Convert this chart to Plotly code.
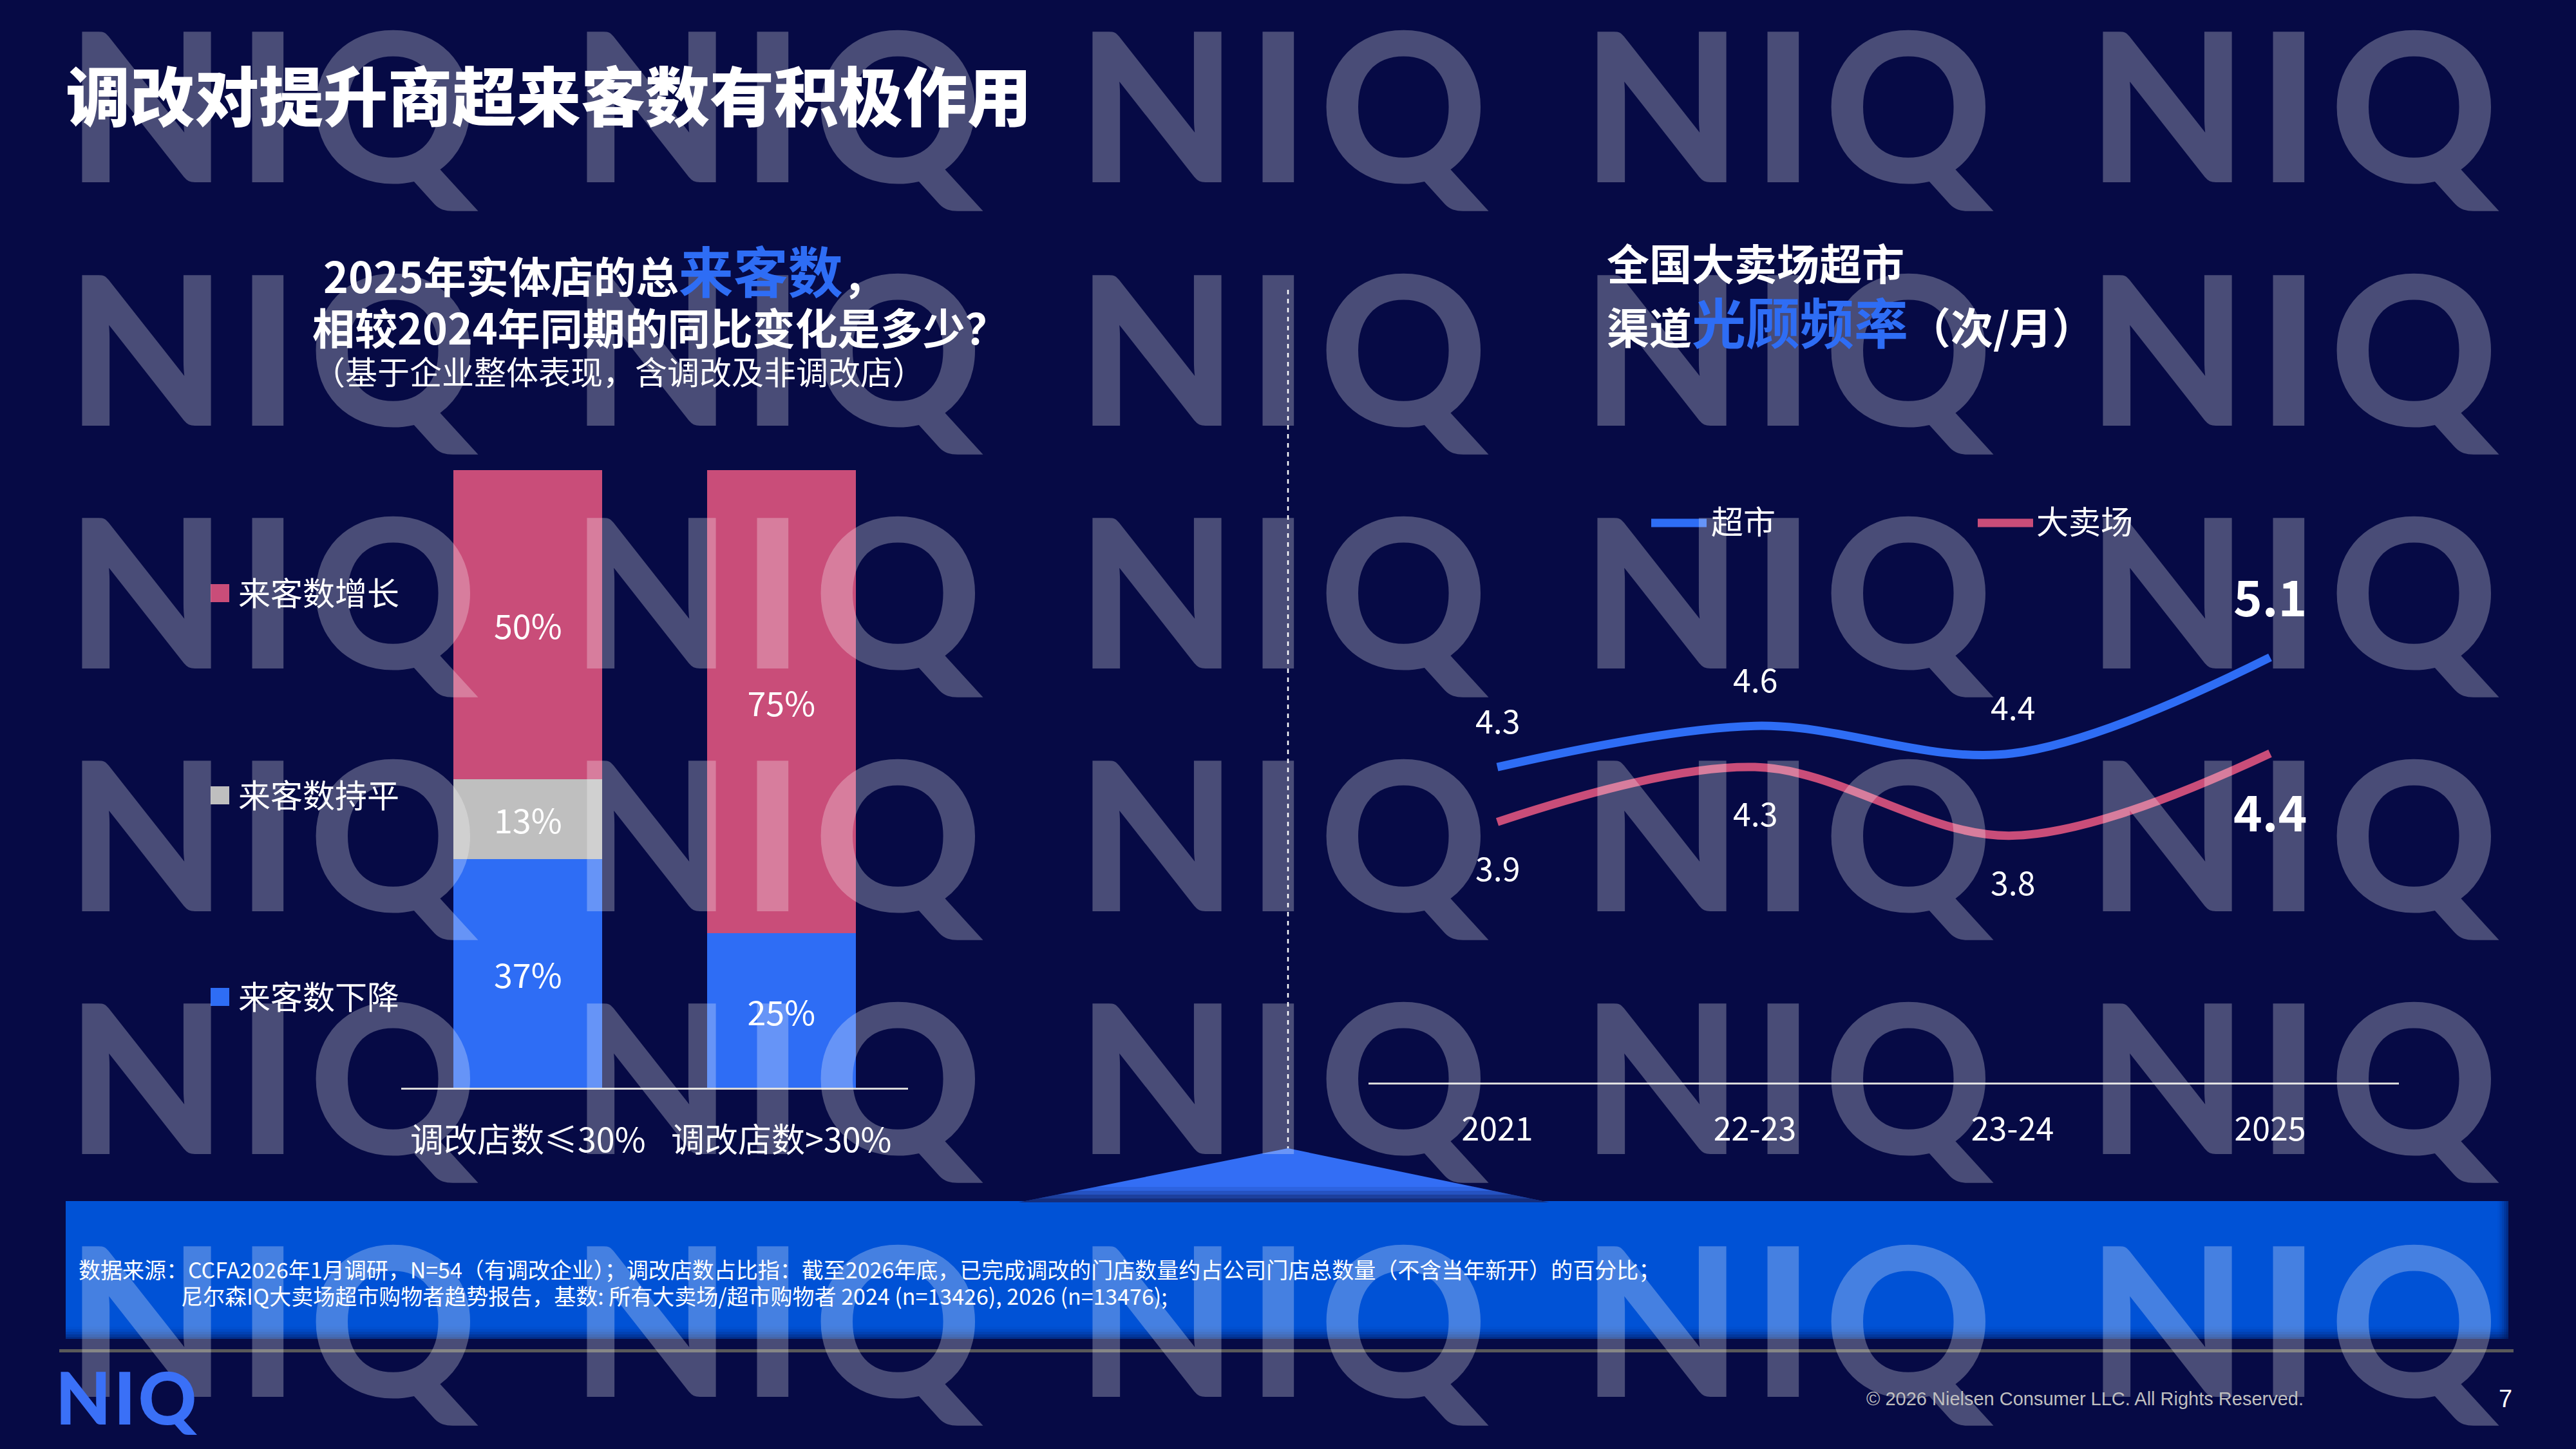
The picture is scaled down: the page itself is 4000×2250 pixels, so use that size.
import plotly.graph_objects as go

W, H = 4000, 2250
def px(x): return x / W
def py(y): return 1 - y / H

BG = '#060A45'
BLUE = '#2E6DF5'
PINK = '#C94D79'
GRAY = '#BFBFBF'
CJK = 'Noto Sans CJK SC'
MARK = 'rgba(255,255,255,0.27)'

# ---------------- data ----------------
bar_categories = ['调改店数≤30%', '调改店数>30%']
bar_series = ['来客数下降', '来客数持平', '来客数增长']
share_down = [37, 25]
share_flat = [13, None]
share_up = [50, 75]

line_periods = ['2021', '22-23', '23-24', '2025']
line_series = ['超市', '大卖场']
supermarket = [4.3, 4.6, 4.4, 5.1]
hypermarket = [3.9, 4.3, 3.8, 4.4]

fig = go.Figure()

# ---------------- stacked bars ----------------
for name, vals, col in zip(bar_series, [share_down, share_flat, share_up], [BLUE, GRAY, PINK]):
    fig.add_trace(go.Bar(
        x=bar_categories, y=vals, name=name, marker=dict(color=col, line=dict(width=0)),
        texttemplate='%{y}%', textposition='inside', insidetextanchor='middle',
        textangle=0, textfont=dict(family=CJK, size=52, color='white'),
        xaxis='x', yaxis='y', showlegend=False, hoverinfo='skip'))

# ---------------- lines ----------------
for name, vals, col in zip(line_series, [supermarket, hypermarket], [BLUE, PINK]):
    fig.add_trace(go.Scatter(
        x=line_periods, y=vals, name=name, mode='lines',
        line=dict(color=col, width=13, shape='spline', smoothing=1.0),
        xaxis='x2', yaxis='y2', showlegend=False, hoverinfo='skip'))

shapes = []
def rect(x0, y0, x1, y1, color, layer='below'):
    shapes.append(dict(type='rect', xref='paper', yref='paper', x0=px(x0), x1=px(x1),
                       y0=py(y1), y1=py(y0), fillcolor=color, line=dict(width=0), layer=layer))
def path(points, color):
    d = 'M ' + ' L '.join(f'{px(a):.5f},{py(b):.5f}' for a, b in points) + ' Z'
    shapes.append(dict(type='path', xref='paper', yref='paper', path=d,
                       fillcolor=color, line=dict(width=0), layer='below'))

# dashed divider
shapes.append(dict(type='line', xref='paper', yref='paper', x0=px(2000), x1=px(2000),
                   y0=py(450), y1=py(1783), line=dict(color='white', width=2.5, dash='7px,7px'),
                   layer='below'))
# blue footer box with soft darker edges
rect(102, 1865, 3895, 2079, '#0052D6')
for i, a in enumerate([0.08, 0.16, 0.26, 0.38, 0.5]):
    rect(102, 2060 + i * 4, 3895, 2079, f'rgba(5,15,70,{a*0.5:.3f})')
    rect(3878 + i * 3.4, 1865, 3895, 2079, f'rgba(5,15,70,{a*0.5:.3f})')
# pointer triangle with darker base
apex = (2000, 1783)
path([(1582, 1867), apex, (2405, 1867)], '#336EF5')
for i, a in enumerate([0.12, 0.22, 0.32, 0.42]):
    yt = 1843 + i * 6
    t = (yt - 1783) / (1867 - 1783)
    xl = 2000 - t * (2000 - 1582)
    xr = 2000 + t * (2405 - 2000)
    path([(1582, 1867), (xl, yt), (xr, yt), (2405, 1867)], f'rgba(10,25,80,{a:.2f})')
# gray rule
rect(92, 2095, 3903, 2100, '#595959')

# legends (left)
for yc, col in zip([921, 1235, 1548], [PINK, GRAY, BLUE]):
    rect(327, yc - 14, 356, yc + 14, col)
# legends (right)
for x0, x1, col in [(2564, 2650, BLUE), (3071, 3157, PINK)]:
    shapes.append(dict(type='line', xref='paper', yref='paper', x0=px(x0), x1=px(x1),
                       y0=py(812), y1=py(812), line=dict(color=col, width=13), layer='below'))

ann = []
def note(text, x, y, size, color='white', weight='normal', xanchor='left', family=CJK):
    ann.append(dict(text=text, x=px(x), y=py(y), xref='paper', yref='paper', showarrow=False,
                    xanchor=xanchor, yanchor='middle',
                    font=dict(family=family, size=size, color=color, weight=weight)))

# watermark grid
WM = "<span style='letter-spacing:15px'>NIQ</span>"
for j in range(6):
    for i in range(5):
        note(WM, 119 + 784.5 * i + 310, 159 + 377 * j, 322, MARK, 900, 'center', 'Lato')

# titles
note('调改对提升商超来客数有积极作用', 100, 144, 100, 'white', 900)
note(f"2025年实体店的总<span style='color:{BLUE};font-size:85px'>来客数</span>，",
     500, 417, 66, 'white', 'bold')
note('相较2024年同期的同比变化是多少？', 483, 506, 66, 'white', 'bold')
note('（基于企业整体表现，含调改及非调改店）', 484, 575, 50, 'white')
note('全国大卖场超市', 2493, 406, 66, 'white', 'bold')
note(f"渠道<span style='color:{BLUE};font-size:84px'>光顾频率</span>（次/月）",
     2493, 497, 66, 'white', 'bold')

# legend texts
for yc, name in zip([918, 1232, 1545], ['来客数增长', '来客数持平', '来客数下降']):
    note(name, 368, yc, 50)
note(line_series[0], 2655, 807, 50)
note(line_series[1], 3160, 807, 50)

# line data labels (category axis -> use category index)
for series, above in [(supermarket, True), (hypermarket, False)]:
    for k, v in enumerate(series):
        last = k == len(series) - 1
        if above:
            shift = 97 if last else 74
        else:
            shift = -88 if last else -70
        ann.append(dict(text=f'{v:.1f}', x=k, y=v, xref='x2', yref='y2', showarrow=False,
                        xanchor='center', yanchor='middle', yshift=shift,
                        font=dict(family=CJK, size=76 if last else 50, color='white',
                                  weight='bold' if last else 'normal')))

# footer
note('数据来源：CCFA2026年1月调研，N=54（有调改企业）；调改店数占比指：截至2026年底，已完成调改的门店数量约占公司门店总数量（不含当年新开）的百分比；',
     120, 1970, 34)
note('尼尔森IQ大卖场超市购物者趋势报告，基数: 所有大卖场/超市购物者 2024 (n=13426), 2026 (n=13476);',
     279, 2011, 34)
note("<span style='letter-spacing:4px'>NIQ</span>", 84, 2168, 112, '#3A70F7', 900, 'left', 'Lato')
note('© 2026 Nielsen Consumer LLC. All Rights Reserved.', 2896, 2172, 29, '#BFBFBF',
     'normal', 'left', 'Liberation Sans')
note('7', 3890, 2172, 38, 'white', 'normal', 'center', 'Liberation Sans')

fig.update_layout(
    width=W, height=H, autosize=False, margin=dict(l=0, r=0, t=0, b=0, pad=0),
    paper_bgcolor=BG, plot_bgcolor='rgba(0,0,0,0)',
    barmode='stack', bargap=0.413,
    font=dict(family=CJK, color='white'),
    xaxis=dict(domain=[px(623), px(1410)], type='category', range=[-0.5, 1.5],
               showline=True, linecolor='#D9D9D9', linewidth=3, showgrid=False, zeroline=False,
               ticks='', ticklabelstandoff=35, tickfont=dict(family=CJK, size=52, color='white'),
               anchor='y', fixedrange=True, automargin=False),
    yaxis=dict(domain=[py(1689), py(730)], range=[0, 100], visible=False, anchor='x',
               fixedrange=True),
    xaxis2=dict(domain=[px(2125), px(3725)], type='category', range=[-0.5, 3.5],
                showline=True, linecolor='#D9D9D9', linewidth=3, showgrid=False, zeroline=False,
                ticks='', ticklabelstandoff=27, tickfont=dict(family=CJK, size=50, color='white'),
                anchor='y2', fixedrange=True, automargin=False),
    yaxis2=dict(domain=[py(1681), py(829)], range=[2, 6], visible=False, anchor='x2',
                fixedrange=True),
    shapes=shapes, annotations=ann, showlegend=False,
)

fig.write_html('out.html', config={'displayModeBar': False},
               post_script="document.body.style.margin='0px';")
